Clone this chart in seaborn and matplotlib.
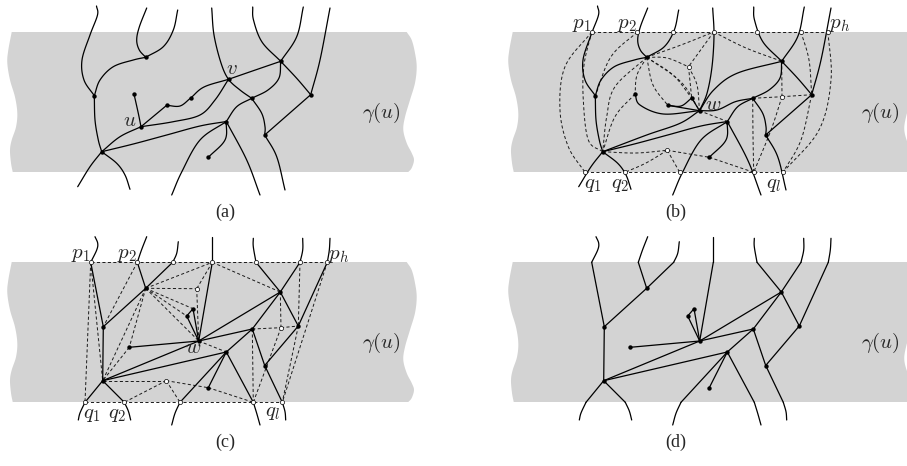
import numpy as np
import pandas as pd
import matplotlib
matplotlib.use("Agg")
import matplotlib.pyplot as plt
import seaborn as sns

# ---------------- data (pixel coordinates of the 907x466 canvas) ----------------
DX, DY = 501, 230          # offsets of the right column / bottom row

# gray band edges of panel (a): (x, y) from top to bottom
band_left = [(11.7, 32), (8.3, 50), (7.3, 63), (10, 80), (15, 97), (17.3, 113),
             (16, 127), (11.7, 140), (10, 150), (11, 163), (12.7, 172)]
band_right = [(406.7, 32), (411.7, 40), (415, 53), (416.7, 67), (415, 83), (410, 100),
              (405, 117), (403.3, 130), (406.7, 143), (411.7, 153), (414, 160),
              (411.7, 168), (408.3, 172)]

# panel (a) vertices
nodes_a = {'A': (94.3, 95.7), 'B': (145.7, 57.3), 'C': (101.7, 151.7), 'u': (141, 126.7),
           'v': (228.5, 79.3), 'E': (280.7, 61.3), 'F': (251.7, 98.3), 'D': (226.3, 121.5),
           'G': (264.7, 135), 'I': (310.7, 94.7), 'H': (208.3, 157.3), 'e1': (134, 94),
           'e2': (166.7, 105.3), 'e3': (190.7, 98),
           't1': (96.5, 6), 't2': (146.7, 8), 't3': (177.7, 10), 't4': (211.7, 8),
           't5': (252.7, 7), 't6': (303.3, 7), 't7': (330, 8),
           'b1': (77.7, 186.7), 'b2': (130, 189.3), 'b3': (171.7, 195), 'b4': (260, 195),
           'b5': (285, 190)}
dots_a = ['A', 'B', 'C', 'u', 'v', 'E', 'F', 'D', 'G', 'I', 'H', 'e1', 'e2', 'e3']

# curves shared by (a) and (b)
curves_ab = [
    ['t1', (97.5, 15), (90, 35), (82, 60), (84, 80), 'A'],
    ['t2', (139.3, 27), (136.7, 40), (139.3, 50), 'B'],
    ['t3', (173.3, 30), (163.3, 46.7), 'B'],
    ['A', (100, 80), (113.3, 66.7), (133.3, 60), 'B'],
    ['A', (95, 120), (98.3, 140), 'C'],
    ['C', (90, 166.7), 'b1'],
    ['C', (116.7, 163.3), (125, 175), 'b2'],
    ['C', (133.3, 144), (166.7, 135), (200, 126), 'D'],
    ['e2', (180, 106), 'e3'],
    ['E', (262, 42), (253.5, 20), 't5'],
    ['E', (296.7, 36.7), 't6'],
    ['E', (279, 78), (268, 90), 'F'],
    ['E', (296.7, 78.3), 'I'],
    ['I', (320, 60), 't7'],
    ['I', 'G'],
    ['F', (261.7, 113.3), (265, 126.7), 'G'],
    ['F', (236.7, 106.7), 'D'],
    ['D', (225, 140), 'H'],
    ['D', (200, 140), (181.7, 172), 'b3'],
    ['D', (246.7, 160), 'b4'],
    ['G', (276.7, 156.7), 'b5'],
]
curves_a_only = [
    ['C', (120, 136.7), 'u'],
    ['u', (138.3, 113.3), 'e1'],
    ['u', 'e2'],
    ['e3', (204, 87), 'v'],
    ['u', (173.3, 121.7), (200, 115), (215, 100), 'v'],
    ['t4', (214, 35), (221, 63), 'v', (240, 90), 'F'],
    ['v', (253.3, 70.7), 'E'],
]

# panel (b): u and v merged into w
nodes_b_extra = {'w': (198.5, 110.7),
                 'P1': (90.7, 32), 'P2': (136.3, 32), 'P3': (172.3, 32), 'P4': (212.7, 32),
                 'P5': (256, 32), 'P6': (300, 32), 'Ph': (327, 32),
                 'Q1': (84, 172.3), 'Q2': (124, 172.3), 'Q3': (178.7, 172.3),
                 'Q4': (252.7, 172.3), 'Ql': (282, 172.3),
                 'h1': (187.5, 66.7), 'h2': (166.3, 150.3), 'h3': (281, 96.7)}
dots_b = ['A', 'B', 'C', 'w', 'E', 'F', 'D', 'G', 'I', 'H', 'e1', 'e2', 'e3']
rings_b = ['P1', 'P2', 'P3', 'P4', 'P5', 'P6', 'Ph', 'Q1', 'Q2', 'Q3', 'Q4', 'Ql', 'h1', 'h2', 'h3']
curves_b_only = [
    ['C', (145.7, 135), (179, 123.3), 'w'],
    ['e1', (139, 105), (162.3, 114), 'w'],
    ['e2', 'w'],
    ['e3', 'w'],
    ['t4', (213, 35), (211, 66.7), (206, 93.3), 'w'],
    ['w', (216, 110), (234.3, 101.7), 'F'],
    ['w', (212.7, 90), (236, 73.3), 'E'],
]
dashed_b = [
    ['P1', 'Ph'], ['Q1', 'Ql'],
    ['P1', (64, 66.7), (59, 110), (67.3, 146.7), 'Q1'],
    ['P1', (83, 65), (82.3, 100), (87.3, 140), 'C'],
    ['P2', (110, 56.7), 'A'],
    ['B', (114, 86.7), (105.7, 116.7), 'C'],
    ['B', (136, 75), 'e1'],
    ['e1', (114, 116.7), 'C'],
    ['B', (166, 58), 'h1'],
    ['B', (180, 45), 'P4'],
    ['P4', 'h1'],
    ['B', (152, 85), 'e2'],
    ['B', (172, 75), 'e3'],
    ['B', (180, 82), 'w'],
    ['h1', 'e3'],
    ['h1', (196, 85), 'w'],
    ['C', (135, 153), 'h2'],
    ['h2', (145, 163), 'Q2'],
    ['h2', 'Q3'],
    ['h2', 'H'],
    ['H', 'Q4'],
    ['w', 'D'],
    ['P4', (245, 48), 'E'],
    ['F', 'h3'],
    ['h3', 'E'],
    ['h3', 'I'],
    ['h3', (270, 130), 'Q4'],
    ['F', (252, 135), 'Q4'],
    ['P6', (308, 60), 'I'],
    ['Ph', (330, 80), (318, 130), 'Ql'],
    ['I', (300, 140), 'Ql'],
]

# panel (c) vertices (panel (d) = same shifted by DX)
nodes_c = {'A': (103.3, 326.7), 'B': (145.7, 288.3), 'C': (102.7, 380.7), 'w': (198.7, 341),
           'e1': (129.3, 347.3), 'S1': (193, 308.7), 'S2': (186.7, 316), 'E': (280.3, 292),
           'F': (252.3, 329), 'D': (226.3, 352), 'G': (264.7, 365.5), 'I': (298.3, 326),
           'H': (208.3, 387.7),
           'P1': (90.7, 262.3), 'P2': (137.3, 262.3), 'P3': (172.7, 262.3), 'P4': (212.3, 262.3),
           'P5': (256, 262.3), 'P6': (300, 262.3), 'Ph': (327.3, 262.3),
           'Q1': (85, 402.3), 'Q2': (124.3, 402.3), 'Q3': (180, 402.3), 'Q4': (253.3, 402.3),
           'Ql': (282.3, 402.3),
           'h1': (196.7, 288.7), 'h2': (166.3, 380.7), 'h3': (281, 327.7)}
dots_c = ['A', 'B', 'C', 'w', 'e1', 'S1', 'S2', 'E', 'F', 'D', 'G', 'I', 'H']
rings_c = ['P1', 'P2', 'P3', 'P4', 'P5', 'P6', 'Ph', 'Q1', 'Q2', 'Q3', 'Q4', 'Ql', 'h1', 'h2', 'h3']
stubs_c = [
    ['P1', (96.7, 250), (97.7, 243.3), (95, 236.7)],
    ['P2', (141.5, 250), (146.7, 236.7)],
    ['P3', (176.7, 253.3), (178.3, 241.7)],
    ['P4', (212.3, 237)],
    ['P5', (253.3, 246.7), (253.3, 238.3)],
    ['P6', (302.7, 250), (302.7, 238.3)],
    ['Ph', (329.3, 250), (330, 238.3)],
    ['Q1', (80, 413), (78.3, 420)],
    ['Q2', (128.3, 411), (130.7, 420)],
    ['Q3', (175, 413.3), (171.7, 425)],
    ['Q4', (256.7, 413.3), (260, 425)],
    ['Ql', (285, 411.7), (285.7, 420)],
]
edges_c = [('P1', 'A'), ('P2', 'B'), ('P3', 'B'), ('B', 'A'), ('A', 'C'), ('C', 'Q1'),
           ('C', 'Q2'), ('C', 'w'), ('C', 'D'), ('P4', 'w'), ('e1', 'w'), ('S1', 'S2'),
           ('S1', 'w'), ('S2', 'w'), ('w', 'E'), ('w', 'F'), ('E', 'P5'), ('E', 'P6'),
           ('E', 'F'), ('E', 'I'), ('I', 'Ph'), ('I', 'G'), ('F', 'G'), ('F', 'D'),
           ('D', 'H'), ('D', 'Q3'), ('D', 'Q4'), ('G', 'Ql')]
dashed_c = [('P1', 'Ph'), ('Q1', 'Ql'), ('P1', 'Q1'), ('P1', 'C'), ('P2', 'A'), ('B', 'C'),
            ('B', 'e1'), ('e1', 'C'), ('B', 'h1'), ('h1', 'w'), ('B', 'P4'), ('P4', 'h1'),
            ('B', 'S1'), ('B', 'S2'), ('B', 'w'), ('C', 'h2'), ('h2', 'Q2'), ('h2', 'Q3'),
            ('h2', 'H'), ('H', 'Q4'), ('w', 'D'), ('P4', 'E'), ('F', 'h3'), ('h3', 'E'),
            ('h3', 'I'), ('h3', 'Q4'), ('F', 'Q4'), ('P6', 'I'), ('Ph', 'Ql'), ('I', 'Ql')]

# text labels
gamma_pos = [(381, 113), (880, 113), (381, 343), (880, 343)]
panel_tags = ['(a)', '(b)', '(c)', '(d)']
tag_pos = [(225, 212), (676, 212), (225, 442), (676, 442)]
labels_a = {'$u$': (130, 122), '$v$': (232, 69)}
labels_b = {'$w$': (712.7, 105), '$p_1$': (581.5, 24), '$p_2$': (626.5, 24), '$p_h$': (840, 25),
            '$q_1$': (592.5, 184), '$q_2$': (620, 184), '$q_l$': (773.5, 184)}
labels_c = {'$w$': (192.7, 348.5), '$p_1$': (81, 254.5), '$p_2$': (126.5, 254.5),
            '$p_h$': (338.5, 255.5), '$q_1$': (91.5, 414), '$q_2$': (116.5, 414),
            '$q_l$': (272.5, 412)}


# ---------------- helpers ----------------
def smooth(pts, n=14):
    pts = np.asarray(pts, float)
    if len(pts) == 2:
        return pts
    P = np.vstack([2 * pts[0] - pts[1], pts, 2 * pts[-1] - pts[-2]])
    out = []
    t = np.linspace(0, 1, n, endpoint=False)[:, None]
    for i in range(1, len(P) - 2):
        p0, p1, p2, p3 = P[i - 1], P[i], P[i + 1], P[i + 2]
        out.append(0.5 * (2 * p1 + (-p0 + p2) * t + (2 * p0 - 5 * p1 + 4 * p2 - p3) * t ** 2
                          + (-p0 + 3 * p1 - 3 * p2 + p3) * t ** 3))
    out.append(P[-2][None])
    return np.vstack(out)


def resolve(path, nodes, dx=0, dy=0):
    pts = [nodes[p] if isinstance(p, str) else p for p in path]
    return [(x + dx, y + dy) for x, y in pts]


rows_solid, rows_dash = [], []
counter = [0]


def add(rows, pts, curved=True):
    counter[0] += 1
    xy = smooth(pts) if curved else np.asarray(pts, float)
    for x, y in xy:
        rows.append((x, y, counter[0]))


# panel (a)
for c in curves_ab + curves_a_only:
    add(rows_solid, resolve(c, nodes_a))
# panel (b)
nodes_b = {**{k: v for k, v in nodes_a.items() if k not in ('u', 'v')}, **nodes_b_extra}
for c in curves_ab + curves_b_only:
    add(rows_solid, resolve(c, nodes_b, DX))
for c in dashed_b:
    add(rows_dash, resolve(c, nodes_b, DX))
# panels (c) and (d)
for dx in (0, DX):
    for s in stubs_c:
        add(rows_solid, resolve(s, nodes_c, dx))
    for a, b in edges_c:
        add(rows_solid, resolve([a, b], nodes_c, dx), curved=False)
for a, b in dashed_c:
    add(rows_dash, resolve([a, b], nodes_c), curved=False)

df_solid = pd.DataFrame(rows_solid, columns=['x', 'y', 'edge'])
df_dash = pd.DataFrame(rows_dash, columns=['x', 'y', 'edge'])

# ---------------- drawing ----------------
sns.set_theme(style='white')
plt.rcParams['mathtext.fontset'] = 'cm'
plt.rcParams['font.family'] = ['Liberation Serif', 'DejaVu Serif']

fig = plt.figure(figsize=(9.07, 4.66), dpi=100)
ax = fig.add_axes([0, 0, 1, 1])

left = smooth(band_left, 8)
right = smooth(band_right, 8)
band = np.vstack([left, right[::-1]])
for dx, dy in [(0, 0), (DX, 0), (0, DY), (DX, DY)]:
    ax.fill(band[:, 0] + dx, band[:, 1] + dy, color='#d3d3d3', lw=0, zorder=0)

sns.lineplot(data=df_solid, x='x', y='y', units='edge', estimator=None, sort=False,
             color='black', lw=0.9, ax=ax, zorder=3)
sns.lineplot(data=df_dash, x='x', y='y', units='edge', estimator=None, sort=False,
             color='#1a1a1a', lw=0.7, linestyle=(0, (3.2, 2.4)), ax=ax, zorder=2)

dot_xy = ([nodes_a[k] for k in dots_a]
          + [(nodes_b[k][0] + DX, nodes_b[k][1]) for k in dots_b]
          + [nodes_c[k] for k in dots_c]
          + [(nodes_c[k][0] + DX, nodes_c[k][1]) for k in dots_c])
ring_xy = ([(nodes_b[k][0] + DX, nodes_b[k][1]) for k in rings_b]
           + [nodes_c[k] for k in rings_c])
dots = pd.DataFrame(dot_xy, columns=['x', 'y'])
rings = pd.DataFrame(ring_xy, columns=['x', 'y'])
sns.scatterplot(data=dots, x='x', y='y', s=10, color='black', edgecolor='black',
                linewidth=0, ax=ax, zorder=5)
sns.scatterplot(data=rings, x='x', y='y', s=9, color='white', edgecolor='black',
                linewidth=0.5, ax=ax, zorder=5)

for x, y in gamma_pos:
    ax.text(x, y, r'$\gamma(u)$', fontsize=15, ha='center', va='center')
for t, (x, y) in zip(panel_tags, tag_pos):
    ax.text(x, y, t, fontsize=13, ha='center', va='center')
for lab in (labels_a, labels_b, labels_c):
    for t, (x, y) in lab.items():
        ax.text(x, y, t, fontsize=15, ha='center', va='center', zorder=6)

ax.set_xlim(0, 907)
ax.set_ylim(466, 0)
ax.axis('off')
fig.savefig('out.png', dpi=100)
plt.close(fig)
